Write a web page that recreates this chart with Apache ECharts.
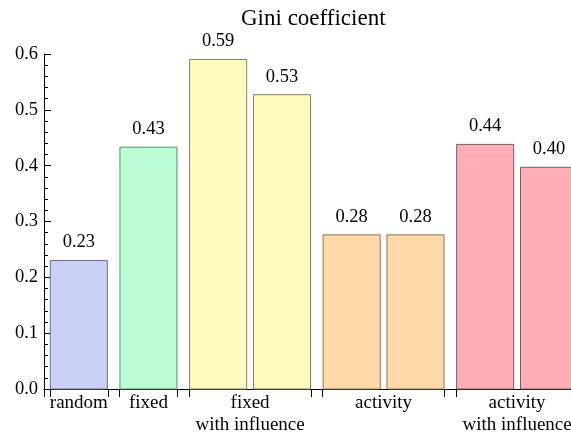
<!DOCTYPE html>
<html>
<head>
<meta charset="utf-8">
<script src="https://cdn.jsdelivr.net/npm/echarts@6/dist/echarts.min.js"></script>
<style>
html,body{margin:0;padding:0;background:#fff;}
#chart{width:571px;height:435px;}
</style>
</head>
<body>
<div id="chart"></div>
<script>
// ---- data ----
const titleText = 'Gini coefficient';
const groups = ['random', 'fixed', 'fixed\nwith influence', 'activity', 'activity\nwith influence'];
const randomValues = [0.231];
const fixedValues = [0.434];
const fixedInfluenceValues = [0.591, 0.528];
const activityValues = [0.277, 0.277];
const activityInfluenceValues = [0.439, 0.398];
const groupValues = [randomValues, fixedValues, fixedInfluenceValues, activityValues, activityInfluenceValues];
const yTickValues = [0, 0.1, 0.2, 0.3, 0.4, 0.5, 0.6];

// ---- style ----
const fills = ['#c9d1f5', '#bbfdd4', '#fffbbf', '#ffdaa8', '#ffaeb5'];
const edges = ['#6b7090', '#5f8a6c', '#85825f', '#8c7660', '#7a5a5e'];
const FONT = '"Liberation Serif", "DejaVu Serif", serif';

// ---- layout in axis units (bar width = 1) ----
const PAD = 0.1, BAR = 1, INNER = 0.1, OUTER = 0.2;
const bars = [];
const boundaries = [0];
const centers = [];
let x = PAD;
groupValues.forEach((vals, g) => {
  const gStart = x;
  vals.forEach((v, i) => {
    if (i > 0) x += INNER;
    bars.push([x, x + BAR, v, g]);
    x += BAR;
  });
  boundaries.push(gStart, x);
  centers.push((gStart + x) / 2);
  x += OUTER;
});
const xMax = x - OUTER + PAD;
const gridWidth = 58.05 * xMax;

const chart = echarts.init(document.getElementById('chart'), null, {renderer: 'canvas'});
chart.setOption({
  animation: false,
  backgroundColor: '#fff',
  title: {
    text: titleText,
    left: 236,
    top: 2,
    textStyle: {fontFamily: FONT, fontSize: 23, fontWeight: 'normal', color: '#000'}
  },
  grid: {left: 44, top: 54, right: 571 - 44 - gridWidth, bottom: 435 - 54 - 335, containLabel: false, outerBoundsMode: 'none'},
  xAxis: {
    type: 'value',
    min: 0,
    max: xMax,
    axisLine: {show: true, onZero: false, lineStyle: {color: '#000', width: 1}},
    axisTick: {show: true, inside: false, length: 8, customValues: boundaries, lineStyle: {color: '#000'}},
    axisLabel: {
      show: true,
      customValues: centers,
      margin: 3,
      color: '#000',
      fontFamily: FONT,
      fontSize: 19,
      lineHeight: 22,
      verticalAlign: 'top',
      formatter: function (v) {
        let best = 0, d = Infinity;
        centers.forEach((c, i) => { if (Math.abs(c - v) < d) { d = Math.abs(c - v); best = i; } });
        return groups[best];
      }
    },
    splitLine: {show: false}
  },
  yAxis: {
    type: 'value',
    min: 0,
    max: 0.6,
    interval: 0.1,
    axisLine: {show: true, lineStyle: {color: '#000', width: 1}},
    axisTick: {show: true, inside: true, length: 7, lineStyle: {color: '#000'}},
    minorTick: {show: true, splitNumber: 5, length: 4, lineStyle: {color: '#000'}},
    axisLabel: {
      color: '#000', fontFamily: FONT, fontSize: 18.5, margin: 6,
      formatter: v => v.toFixed(1)
    },
    splitLine: {show: false}
  },
  series: [{
    type: 'custom',
    clip: false,
    data: bars,
    encode: {x: [0, 1], y: 2},
    renderItem: function (params, api) {
      const x0 = api.value(0), x1 = api.value(1), v = api.value(2), g = api.value(3);
      const p0 = api.coord([x0, v]);
      const p1 = api.coord([x1, 0]);
      return {
        type: 'group',
        children: [{
          type: 'rect',
          shape: {x: p0[0] + 0.5, y: p0[1] + 0.5, width: p1[0] - p0[0] - 1, height: p1[1] - p0[1] - 0.5},
          style: {fill: fills[g], stroke: edges[g], lineWidth: 1}
        }, {
          type: 'text',
          x: (p0[0] + p1[0]) / 2,
          y: p0[1] - 8,
          style: {
            text: v.toFixed(2), fill: '#000', font: '18.5px ' + FONT,
            align: 'center', verticalAlign: 'bottom'
          }
        }]
      };
    }
  }]
});
</script>
</body>
</html>
